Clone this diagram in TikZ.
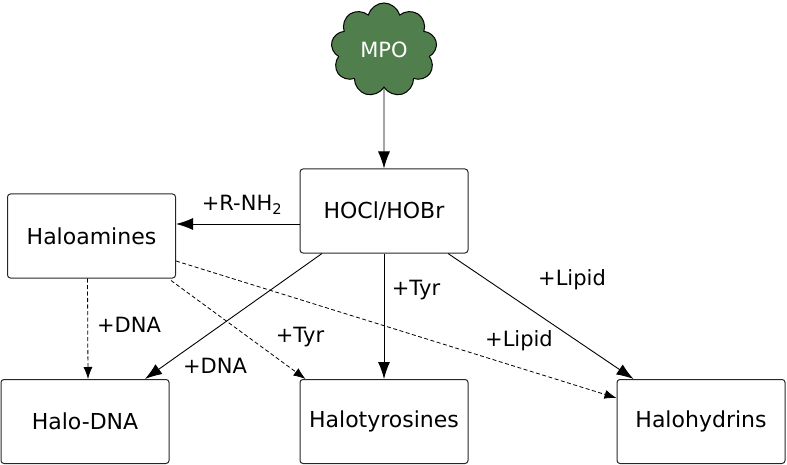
\documentclass[tikz,border=0pt]{standalone}
\usepackage{fontspec}
\setmainfont{DejaVu Sans}
\usetikzlibrary{shapes.symbols,arrows.meta,calc}
\definecolor{mpogreen}{RGB}{80,126,76}
\tikzset{
  box/.style={draw=black!85,line width=1pt,rounded corners=3pt,minimum width=168pt,minimum height=84pt,inner sep=0pt,font=\fontsize{22}{26}\selectfont},
  lbl/.style={inner sep=0pt,font=\fontsize{21}{25}\selectfont},
  solidarrow/.style={line width=0.9pt,-{Latex[length=17pt,width=12pt]}},
  dasharrow/.style={line width=0.8pt,dash pattern=on 4pt off 2.5pt,-{Latex[length=12pt,width=9pt]}}
}
\begin{document}
\begin{tikzpicture}[x=1pt,y=-1pt]
\useasboundingbox (0,0) rectangle (787,465);
\node[cloud,cloud puffs=9,aspect=1.1,draw,line width=1pt,fill=mpogreen,minimum width=106pt,minimum height=94pt,inner sep=0pt,text=white,font=\fontsize{21}{25}\selectfont] (mpo) at (384,50) {MPO};
\node[box] (hocl) at (384,211) {HOCl/HOBr};
\node[box] (amine) at (91.5,236) {Haloamines};
\node[box] (dna) at (85,421.5) {Halo-DNA};
\node[box] (tyr) at (384,421.5) {Halotyrosines};
\node[box] (hyd) at (701,421.5) {Halohydrins};

\draw[solidarrow] (mpo.south) -- (hocl.north);
\draw[solidarrow] ($(hocl.west)+(0,13)$) -- (amine.east |- {$(hocl.west)+(0,13)$});
\draw[solidarrow] ($(hocl.south)+(-62,0)$) -- ($(dna.north)+(60,0)$);
\draw[solidarrow] (hocl.south) -- (tyr.north);
\draw[solidarrow] ($(hocl.south)+(64,0)$) -- ($(hyd.north west)+(17,0)$);

\draw[dasharrow] ($(amine.south)+(-4,0)$) -- ($(dna.north)+(3,0)$);
\draw[dasharrow] ($(amine.south east)+(-5,2)$) -- ($(tyr.north west)+(6,0)$);
\draw[dasharrow] ($(amine.east)+(0,25)$) -- ($(hyd.west)+(0,-23.5)$);

\node[lbl] (lnh) at (242,205) {+R-NH\textsubscript{2}};
\node[lbl] (ldna1) at (129,325) {+DNA};
\node[lbl] (ltyr1) at (300,337) {+Tyr};
\node[lbl] (llip1) at (519,341) {+Lipid};
\node[lbl] (ldna2) at (215,366) {+DNA};
\node[lbl] (ltyr2) at (416,290) {+Tyr};
\node[lbl] (llip2) at (572,280) {+Lipid};
\end{tikzpicture}
\end{document}
